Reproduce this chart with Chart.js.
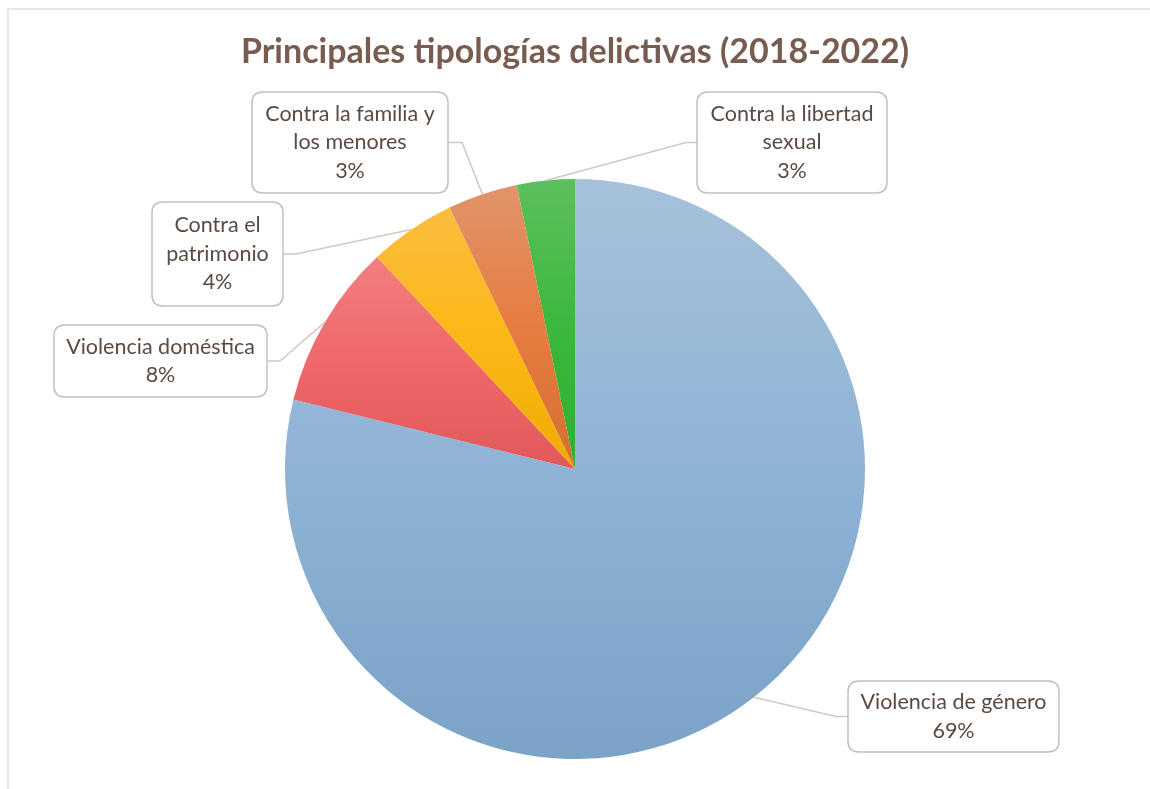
<!DOCTYPE html>
<html>
<head>
<meta charset="utf-8">
<script src="https://cdn.jsdelivr.net/npm/chart.js@4.4.1/dist/chart.umd.min.js"></script>
<style>
  html, body { margin: 0; padding: 0; background: #fff; }
  #wrap { position: relative; width: 1150px; height: 789px; overflow: hidden; }
  #frame { position: absolute; left: 7px; top: 8px; width: 1200px; height: 900px;
           border-left: 2px solid #ebe6e2; border-top: 2px solid #ebe6e2; }
  #chart { position: absolute; left: 0; top: 0; }
</style>
</head>
<body>
<div id="wrap">
  <div id="frame"></div>
  <canvas id="chart" width="1150" height="789"></canvas>
</div>
<script>
// ── data ──
const categories = ['Violencia de género', 'Violencia doméstica', 'Contra el patrimonio',
                    'Contra la familia y los menores', 'Contra la libertad sexual'];
const values = [68.6, 8.0, 4.2, 3.4, 2.8];
// label text split in lines, as in the original
const labelLines = [
  ['Violencia de género'],
  ['Violencia doméstica'],
  ['Contra el', 'patrimonio'],
  ['Contra la familia y', 'los menores'],
  ['Contra la libertad', 'sexual']
];
// gradient stops per slice: top, middle, bottom
const sliceColors = [
  ['#a7c1da', '#8fb3d6', '#7aa3c7'],
  ['#f27f80', '#ef6769', '#df585a'],
  ['#fbbd40', '#fcb817', '#eeaa00'],
  ['#e0946a', '#e77c40', '#d36f30'],
  ['#5dbf5d', '#3cb83c', '#2faf2f']
];

// callout boxes (left, top, right, bottom) and elbow of the leader line
const boxes = [
  { x1: 848, y1: 681, x2: 1059, y2: 752, elbow: 836, side: 'left' },
  { x1: 54,  y1: 325, x2: 267,  y2: 397, elbow: 280, side: 'right' },
  { x1: 152, y1: 202, x2: 283,  y2: 306, elbow: 296, side: 'right' },
  { x1: 252, y1: 92,  x2: 448,  y2: 193, elbow: 462, side: 'right' },
  { x1: 697, y1: 92,  x2: 887,  y2: 193, elbow: 686, side: 'left' }
];

const TEXT = '#5b4a42';
const LEADER = '#d3c8c0';

function roundRect(ctx, x, y, w, h, r) {
  ctx.beginPath();
  ctx.moveTo(x + r, y);
  ctx.lineTo(x + w - r, y);
  ctx.quadraticCurveTo(x + w, y, x + w, y + r);
  ctx.lineTo(x + w, y + h - r);
  ctx.quadraticCurveTo(x + w, y + h, x + w - r, y + h);
  ctx.lineTo(x + r, y + h);
  ctx.quadraticCurveTo(x, y + h, x, y + h - r);
  ctx.lineTo(x, y + r);
  ctx.quadraticCurveTo(x, y, x + r, y);
  ctx.closePath();
}

// vertical gradient per slice, spanning the slice's own height
const sliceGradient = {
  id: 'sliceGradient',
  beforeDatasetsDraw(chart) {
    const ctx = chart.ctx;
    chart.getDatasetMeta(0).data.forEach((arc, i) => {
      const { x, y, outerRadius, startAngle, endAngle } = arc.getProps(['x', 'y', 'outerRadius', 'startAngle', 'endAngle'], true);
      let ys = [y, y + outerRadius * Math.sin(startAngle), y + outerRadius * Math.sin(endAngle)];
      const has = a => {
        for (let k = -2; k <= 2; k++) {
          const t = a + k * 2 * Math.PI;
          if (t >= startAngle && t <= endAngle) return true;
        }
        return false;
      };
      if (has(-Math.PI / 2)) ys.push(y - outerRadius);
      if (has(Math.PI / 2)) ys.push(y + outerRadius);
      const top = Math.min(...ys), bot = Math.max(...ys);
      const g = ctx.createLinearGradient(0, top, 0, bot);
      g.addColorStop(0, sliceColors[i][0]);
      g.addColorStop(0.5, sliceColors[i][1]);
      g.addColorStop(1, sliceColors[i][2]);
      arc.options.backgroundColor = g;
    });
  }
};

// callouts with leader lines
const callouts = {
  id: 'callouts',
  afterDatasetsDraw(chart) {
    const ctx = chart.ctx;
    ctx.save();
    chart.getDatasetMeta(0).data.forEach((arc, i) => {
      const { x, y, outerRadius, startAngle, endAngle } = arc.getProps(['x', 'y', 'outerRadius', 'startAngle', 'endAngle'], true);
      const mid = (startAngle + endAngle) / 2;
      const ax = x + outerRadius * Math.cos(mid);
      const ay = y + outerRadius * Math.sin(mid);
      const b = boxes[i];
      const cy = (b.y1 + b.y2) / 2;
      const edge = b.side === 'left' ? b.x1 : b.x2;

      ctx.strokeStyle = LEADER;
      ctx.lineWidth = 1.5;
      ctx.beginPath();
      ctx.moveTo(ax, ay);
      ctx.lineTo(b.elbow, cy);
      ctx.lineTo(edge, cy);
      ctx.stroke();

      roundRect(ctx, b.x1, b.y1, b.x2 - b.x1, b.y2 - b.y1, 11);
      ctx.fillStyle = '#fff';
      ctx.fill();
      ctx.strokeStyle = '#c4c0bd';
      ctx.lineWidth = 1.5;
      ctx.stroke();

      const lines = labelLines[i].concat([Math.round(values[i]) + '%']);
      const lh = 28.5;
      ctx.fillStyle = TEXT;
      ctx.font = '21.5px Lato, "Open Sans", sans-serif';
      ctx.textAlign = 'center';
      ctx.textBaseline = 'middle';
      const bx = (b.x1 + b.x2) / 2;
      const y0 = cy - (lines.length - 1) * lh / 2;
      lines.forEach((t, k) => ctx.fillText(t, bx, y0 + k * lh));
    });
    ctx.restore();
  }
};

new Chart(document.getElementById('chart'), {
  type: 'pie',
  data: {
    labels: categories,
    datasets: [{
      data: values,
      backgroundColor: sliceColors.map(c => c[1]),
      borderWidth: 0
    }]
  },
  options: {
    responsive: false,
    animation: false,
    layout: { padding: { top: 16, bottom: 30, left: 0, right: 0 } },
    plugins: {
      legend: { display: false },
      tooltip: { enabled: false },
      title: {
        display: true,
        text: 'Principales tipologías delictivas (2018-2022)',
        color: '#775c4f',
        font: { family: 'Lato, "Open Sans", sans-serif', size: 34, weight: 'bold', lineHeight: 1.2 },
        padding: { top: 15.6, bottom: 106.6 }
      }
    }
  },
  plugins: [sliceGradient, callouts]
});
</script>
</body>
</html>
